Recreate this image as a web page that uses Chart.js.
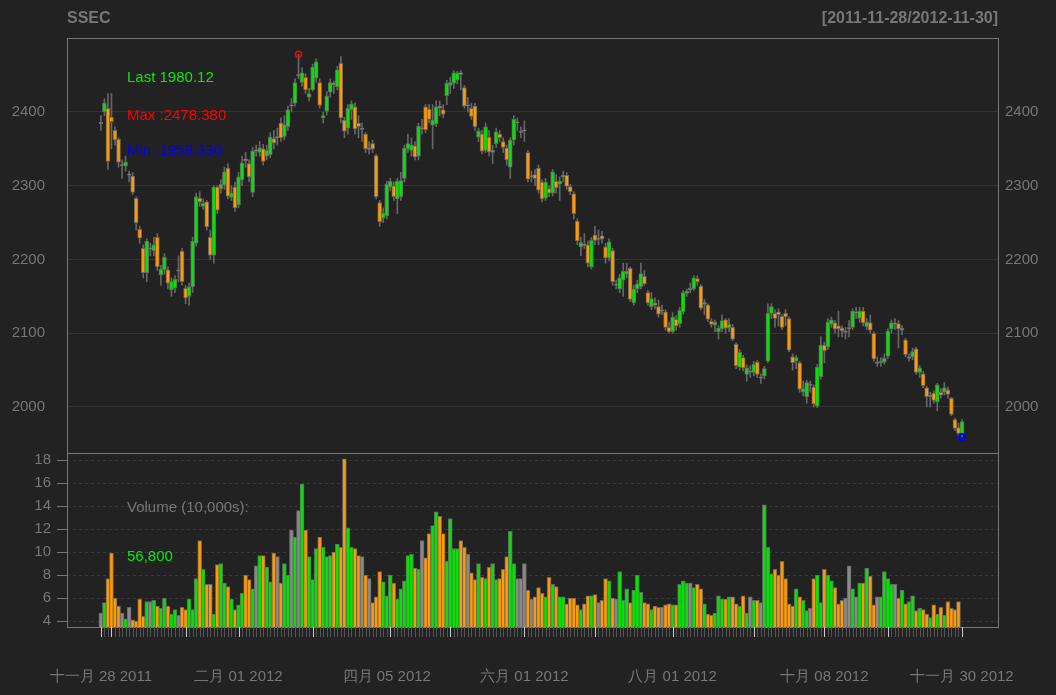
<!DOCTYPE html>
<html>
<head>
<meta charset="utf-8">
<script src="https://cdn.jsdelivr.net/npm/chart.js@4"></script>
<style>
  body { margin: 0; background: #222222; width: 1056px; height: 695px; overflow: hidden; font-family: "Liberation Sans", Arial, sans-serif; }
  canvas { position: absolute; left: 0; }
  .t { position: absolute; font-size: 15px; white-space: nowrap; }
  .d { position: absolute; top: 667px; font-size: 15px; color: #777; transform: translateX(-50%); white-space: nowrap; }
</style>
</head>
<body>
<canvas id="priceChart" width="1056" height="460" style="top:0"></canvas>
<canvas id="volChart" width="1056" height="242" style="top:453px"></canvas>
<div class="t" style="left:67px;top:9px;font-weight:bold;font-size:16px;color:#777">SSEC</div>
<div class="t" style="right:58px;top:9px;font-weight:bold;font-size:16px;color:#777">[2011-11-28/2012-11-30]</div>
<div class="t" style="left:127px;top:68px;color:#00ee00">Last 1980.12</div>
<div class="t" style="left:127px;top:106px;color:#ff0000">Max :2478.380</div>
<div class="t" style="left:127px;top:141px;color:#0000ff">Min :1959.330</div>
<div class="t" style="left:127px;top:498px;color:#777">Volume (10,000s):</div>
<div class="t" style="left:127px;top:547px;color:#00ee00">56,800</div>
<div id="dates"></div>
<script>
// Daily OHLC, SSEC 2011-11-28 .. 2012-11-30
const opens = [2385,2400,2405,2393,2375,2363,2328,2327,2315,2313,2283,2241,2215,2182,2215,2212,2230,2179,2186,2186,2159,2161,2185,2211,2161,2150,2163,2222,2283,2272,2278,2230,2206,2298,2296,2301,2324,2284,2298,2274,2308,2336,2330,2291,2348,2345,2350,2340,2342,2364,2366,2385,2367,2380,2409,2412,2450,2440,2447,2420,2430,2446,2440,
  2392,2401,2427,2439,2434,2466,2389,2378,2403,2407,2385,2377,2370,2350,2357,2341,2277,2256,2259,2298,2300,2282,2285,2310,2350,2348,2354,2340,2378,2407,2404,2382,2384,2408,2403,2422,2436,2439,2443,2453,2433,2409,2405,2408,2366,2370,2348,2366,2345,2357,2370,2360,2351,2325,2362,2386,2373,2375,2345,2313,2315,2324,2305,2283,
  2296,2290,2306,2302,2312,2314,2299,2289,2252,2217,2221,2220,2190,2233,2228,2232,2217,2202,2212,2166,2160,2172,2180,2188,2141,2160,2163,2177,2155,2136,2141,2136,2131,2129,2108,2102,2119,2113,2129,2154,2160,2160,2174,2164,2139,2138,2116,2111,2102,2106,2118,2107,2108,2085,2054,2067,2044,2048,2047,2061,2040,2042,2062,
  2127,2127,2129,2123,2127,2120,2068,2062,2060,2020,2014,2030,2027,2001,2041,2084,2081,2112,2114,2110,2107,2102,2107,2108,2128,2120,2130,2109,2114,2100,2060,2060,2061,2069,2106,2113,2113,2104,2091,2066,2068,2079,2047,2045,2026,2014,2019,2007,2020,2020,2023,2012,1983,1972,1963];
const highs = [2395,2418,2425,2425,2380,2365,2335,2340,2320,2318,2285,2245,2220,2228,2222,2230,2235,2192,2208,2190,2175,2178,2205,2215,2165,2168,2230,2290,2292,2282,2280,2240,2300,2300,2308,2325,2330,2300,2305,2318,2340,2345,2335,2352,2355,2360,2356,2355,2372,2375,2378,2392,2395,2408,2418,2445,2478.38,2460,2452,2432,2465,2472,2445,
  2400,2428,2445,2442,2462,2475,2393,2410,2415,2412,2395,2385,2372,2360,2362,2343,2280,2270,2306,2310,2305,2310,2318,2355,2370,2365,2360,2385,2390,2410,2410,2410,2415,2415,2410,2443,2447,2456,2455,2456,2436,2420,2412,2412,2378,2375,2385,2375,2355,2378,2375,2365,2355,2365,2395,2392,2380,2388,2348,2320,2322,2328,2308,2310,
  2300,2322,2315,2312,2320,2318,2302,2292,2255,2230,2235,2225,2230,2245,2240,2238,2222,2228,2215,2172,2180,2195,2195,2190,2165,2172,2195,2185,2158,2155,2148,2145,2138,2132,2115,2128,2124,2135,2158,2160,2168,2178,2178,2166,2146,2140,2120,2118,2110,2125,2120,2120,2112,2087,2078,2070,2057,2056,2062,2063,2045,2055,2140,
  2140,2132,2133,2125,2132,2122,2072,2070,2062,2035,2036,2035,2030,2058,2095,2088,2120,2122,2117,2130,2110,2108,2117,2133,2135,2135,2135,2120,2125,2102,2068,2067,2072,2106,2118,2120,2117,2110,2093,2072,2080,2081,2056,2048,2028,2020,2022,2032,2025,2033,2027,2013,1985,1978,1983];
const lows = [2375,2395,2322,2350,2355,2325,2310,2320,2305,2288,2240,2222,2175,2170,2205,2205,2185,2165,2180,2160,2150,2155,2170,2165,2140,2138,2155,2218,2272,2268,2240,2200,2195,2262,2290,2295,2282,2280,2265,2270,2300,2325,2305,2285,2340,2340,2328,2335,2338,2350,2355,2360,2362,2375,2400,2408,2445,2435,2425,2415,2428,2440,2405,
  2385,2396,2420,2425,2430,2385,2365,2370,2390,2370,2365,2360,2345,2343,2345,2282,2245,2250,2255,2293,2280,2262,2280,2305,2345,2340,2335,2335,2370,2372,2385,2350,2380,2395,2392,2410,2425,2432,2438,2430,2405,2400,2390,2375,2360,2343,2345,2340,2330,2352,2360,2345,2328,2310,2355,2375,2365,2360,2305,2305,2300,2290,2278,2280,
  2285,2286,2290,2280,2305,2295,2288,2255,2220,2205,2215,2190,2187,2220,2220,2222,2195,2198,2165,2160,2155,2150,2175,2143,2138,2155,2160,2165,2138,2132,2133,2122,2125,2104,2100,2100,2104,2108,2126,2150,2155,2158,2165,2132,2125,2116,2108,2102,2092,2102,2100,2102,2090,2052,2050,2049,2035,2040,2042,2040,2032,2038,2060,
  2120,2108,2110,2105,2110,2075,2050,2052,2020,2015,2005,2020,2000,1999,2038,2060,2078,2108,2100,2095,2095,2092,2095,2105,2120,2115,2110,2105,2100,2062,2055,2055,2058,2066,2100,2105,2080,2098,2068,2062,2064,2044,2040,2026,2000,2000,2005,1995,2012,2016,2012,1988,1968,1960,1959.33];
const closes = [2385,2412,2333,2387,2362,2332,2328,2332,2315,2291,2250,2229,2182,2225,2215,2220,2190,2187,2203,2168,2170,2173,2185,2170,2148,2163,2225,2285,2278,2276,2244,2206,2298,2267,2302,2319,2286,2290,2270,2312,2331,2334,2312,2347,2348,2351,2333,2348,2366,2358,2366,2365,2383,2403,2409,2440,2450,2453,2430,2425,2461,2468,2409,
  2395,2422,2440,2437,2457,2392,2374,2405,2411,2377,2380,2377,2350,2350,2350,2285,2251,2263,2302,2306,2285,2306,2307,2351,2357,2355,2339,2381,2378,2376,2390,2389,2407,2405,2397,2439,2440,2453,2453,2451,2408,2409,2394,2380,2374,2347,2380,2346,2348,2373,2365,2352,2335,2362,2390,2386,2373,2375,2309,2313,2310,2294,2282,2305,
  2290,2319,2297,2306,2314,2299,2292,2262,2225,2223,2219,2195,2226,2226,2228,2228,2202,2224,2170,2166,2175,2184,2184,2146,2160,2167,2181,2167,2141,2147,2138,2126,2131,2108,2102,2122,2110,2131,2155,2157,2160,2175,2170,2134,2142,2119,2112,2115,2107,2117,2107,2112,2092,2056,2074,2053,2053,2048,2058,2044,2040,2052,2127,
  2136,2120,2125,2108,2122,2077,2060,2067,2024,2025,2033,2030,2004,2054,2084,2076,2115,2118,2106,2106,2103,2102,2107,2130,2128,2130,2114,2115,2104,2065,2060,2062,2066,2103,2114,2113,2106,2107,2071,2068,2075,2047,2053,2029,2014,2016,2009,2030,2016,2026,2017,1990,1971,1964,1980.12];
// Volume, 10,000s of lots
const volumes = [4.7,5.6,7.7,9.9,6.0,5.3,4.7,4.2,5.2,4.1,4.0,5.9,4.4,5.7,5.7,5.8,5.3,5.1,6.0,5.3,4.6,5.0,4.5,5.2,5.0,5.9,5.0,7.7,11.0,8.5,7.2,7.2,4.6,8.9,9.0,7.3,7.0,5.9,5.0,5.4,6.4,8.0,7.6,6.8,8.8,9.7,9.7,8.7,7.4,9.9,9.6,7.3,9.0,8.0,11.9,11.3,13.6,15.9,11.9,9.6,
  7.6,10.3,11.3,10.4,9.6,9.7,10.0,10.7,10.4,18.1,12.1,10.4,10.3,9.7,9.6,8.0,7.7,5.6,6.1,8.3,7.4,6.2,8.0,7.3,5.9,6.8,7.5,9.7,9.8,8.6,8.5,11.0,9.5,11.6,12.3,13.5,13.1,11.6,9.2,12.9,10.3,10.3,11.0,10.4,9.8,8.2,7.6,9.0,7.8,7.7,8.7,9.0,7.6,7.7,8.5,9.6,11.8,9.0,
  7.7,7.7,9.0,6.7,5.9,6.1,6.9,6.4,6.1,7.8,7.2,7.0,6.1,6.1,5.5,6.0,6.0,5.4,5.0,5.5,6.2,6.2,6.3,5.6,5.8,7.7,7.5,6.0,5.9,8.3,5.8,6.8,5.6,6.7,8.0,6.5,5.6,5.5,5.0,5.3,5.2,5.2,5.4,5.5,5.4,5.4,7.2,7.5,7.3,7.3,6.9,7.2,6.8,5.5,4.6,4.5,4.7,6.2,5.9,5.9,6.1,6.1,5.5,5.3,6.2,4.7,6.1,5.8,5.8,5.6,
  14.1,10.4,8.1,8.5,8.0,9.2,7.7,5.5,5.3,6.8,6.1,5.8,4.9,5.1,7.7,8.0,5.6,8.5,8.0,7.5,6.9,5.5,5.8,6.0,8.8,6.8,6.1,7.3,7.3,8.6,7.9,5.4,6.1,6.1,8.3,7.7,7.2,7.2,6.0,6.7,5.5,5.7,6.2,4.9,5.1,5.0,4.6,4.3,5.4,4.6,5.2,4.5,5.7,5.1,5.0,5.68];
// X axis: month ticks and the dated labels
const majorIdx = [0, 3, 24, 39, 60, 82, 99, 120, 140, 162, 185, 205, 223, 244];
const labelIdx = [0, 39, 81, 120, 162, 205, 244];
const labelText = ['十一月 28 2011', '二月 01 2012', '四月 05 2012', '六月 01 2012', '八月 01 2012', '十月 08 2012', '十一月 30 2012'];

const GREEN = '#00e600', ORANGE = '#ff9a00', GREY = '#8a8a8a', EDGE = '#666666';
const n = closes.length;
const col = closes.map((c, i) => c > opens[i] ? GREEN : (c < opens[i] ? ORANGE : GREY));
const xMin = -9.6, xMax = n - 1 + 10.2;
const font = { family: '"Liberation Sans", Arial, sans-serif', size: 15 };
const noPad = s => { s.paddingTop = 0; s.paddingBottom = 0; };

const frame = {
  id: 'frame',
  afterDraw(chart) {
    const a = chart.chartArea, ctx = chart.ctx;
    ctx.save();
    ctx.strokeStyle = '#777';
    ctx.lineWidth = 1;
    ctx.strokeRect(Math.round(a.left) + 0.5, Math.round(a.top) + 0.5, Math.round(a.right - a.left), Math.round(a.bottom - a.top));
    ctx.restore();
  }
};

const hiIdx = highs.indexOf(Math.max(...highs));
const loIdx = lows.indexOf(Math.min(...lows));

new Chart(document.getElementById('priceChart'), {
  data: {
    datasets: [
      { type: 'bar', data: highs.map((h, i) => ({ x: i, y: [lows[i], h] })), backgroundColor: EDGE, barThickness: 1, grouped: false, order: 3 },
      { type: 'bar', data: opens.map((o, i) => ({ x: i, y: o === closes[i] ? [o - 0.8, o + 0.8] : [o, closes[i]] })), backgroundColor: col, borderColor: EDGE, borderWidth: 1, borderSkipped: false, barThickness: 4, grouped: false, order: 2 },
      { type: 'scatter', data: [{ x: hiIdx, y: highs[hiIdx] }], pointRadius: 3, borderColor: '#ff0000', borderWidth: 1.5, backgroundColor: 'transparent', order: 1 },
      { type: 'scatter', data: [{ x: loIdx, y: lows[loIdx] }], pointRadius: 3, borderColor: '#0000ff', borderWidth: 2, backgroundColor: 'transparent', order: 1 }
    ]
  },
  options: {
    responsive: false, animation: false, devicePixelRatio: 1,
    layout: { padding: { top: 38, bottom: 7 } },
    plugins: { legend: { display: false }, tooltip: { enabled: false } },
    scales: {
      x: { type: 'linear', min: xMin, max: xMax, offset: false, display: false },
      y: {
        position: 'left', min: 1937.6, max: 2500.3,
        afterBuildTicks: s => { s.ticks = [2000, 2100, 2200, 2300, 2400].map(v => ({ value: v })); },
        afterFit: s => { s.width = 67; noPad(s); },
        grid: { color: '#333', drawTicks: false }, border: { display: false },
        ticks: { color: '#777', font, padding: 22, callback: v => String(v) }
      },
      y2: {
        position: 'right', min: 1937.6, max: 2500.3,
        afterBuildTicks: s => { s.ticks = [2000, 2100, 2200, 2300, 2400].map(v => ({ value: v })); },
        afterFit: s => { s.width = 58; noPad(s); },
        grid: { display: false, drawTicks: false }, border: { display: false },
        ticks: { color: '#777', font, padding: 7, callback: v => String(v) }
      }
    }
  },
  plugins: [frame]
});

const xTicks = {
  id: 'xTicks',
  afterDraw(chart) {
    const ctx = chart.ctx, xs = chart.scales.x, b = chart.chartArea.bottom;
    ctx.save();
    ctx.lineWidth = 1;
    for (let i = 0; i < n; i++) {
      const px = Math.round(xs.getPixelForValue(i)) + 0.5;
      const major = majorIdx.includes(i);
      ctx.strokeStyle = major ? '#cccccc' : '#555555';
      ctx.beginPath();
      ctx.moveTo(px, b);
      ctx.lineTo(px, b + 10);
      ctx.stroke();
    }
    ctx.restore();
    const box = document.getElementById('dates');
    if (!box.childElementCount) {
      labelIdx.forEach((idx, k) => {
        const d = document.createElement('div');
        d.className = 'd';
        d.style.left = xs.getPixelForValue(idx) + 'px';
        d.textContent = labelText[k];
        box.appendChild(d);
      });
    }
  }
};

new Chart(document.getElementById('volChart'), {
  type: 'bar',
  data: {
    datasets: [{
      data: volumes.map((v, i) => ({ x: i, y: v })),
      backgroundColor: col, borderColor: EDGE, borderWidth: 1, borderSkipped: 'bottom', barThickness: 4
    }]
  },
  options: {
    responsive: false, animation: false, devicePixelRatio: 1,
    layout: { padding: { top: 0, bottom: 68, right: 58 } },
    plugins: { legend: { display: false }, tooltip: { enabled: false } },
    scales: {
      x: { type: 'linear', min: xMin, max: xMax, offset: false, display: false },
      y: {
        position: 'left', min: 3.48, max: 18.61,
        afterBuildTicks: s => { s.ticks = [4, 6, 8, 10, 12, 14, 16, 18].map(v => ({ value: v })); },
        afterFit: s => { s.width = 67; noPad(s); },
        grid: { color: '#3a3a3a', drawTicks: true, tickLength: 10, tickColor: '#777' },
        border: { display: false, dash: [3, 3] },
        ticks: { color: '#777', font, padding: 6 }
      }
    }
  },
  plugins: [frame, xTicks]
});
</script>
</body>
</html>
